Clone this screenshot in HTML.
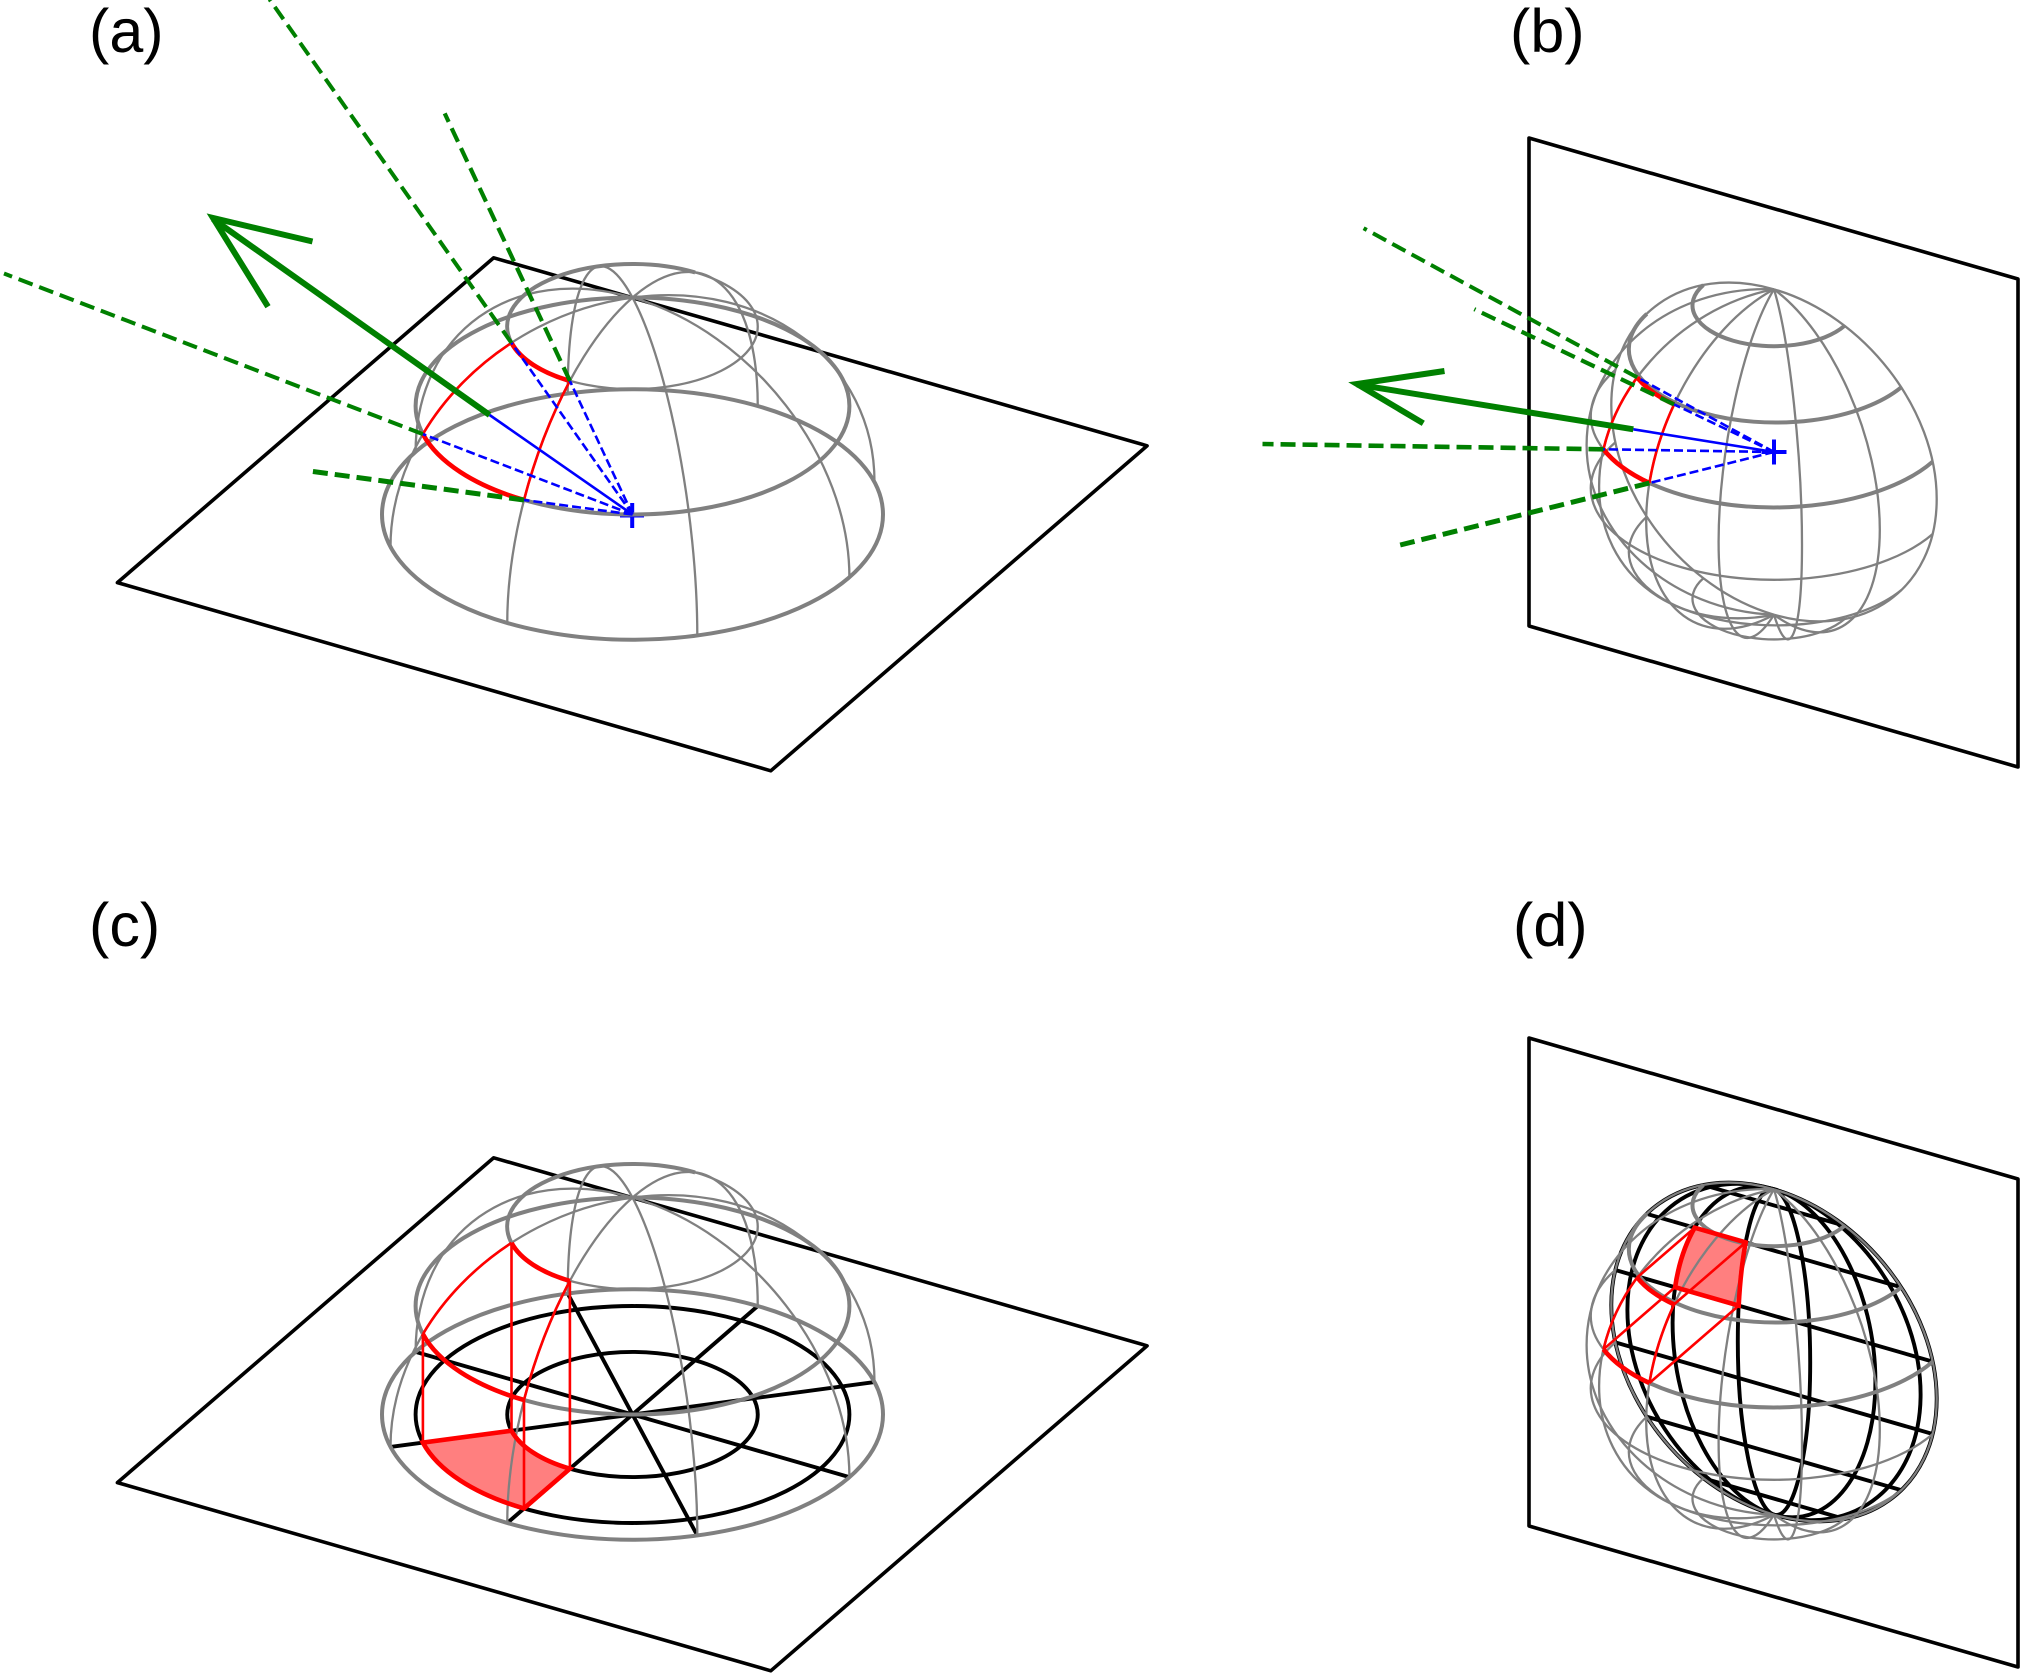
<!DOCTYPE html>
<html>
<head>
<meta charset="utf-8">
<style>
html,body{margin:0;padding:0;background:#fff;}
svg{display:block;}
text{font-family:"Liberation Sans",sans-serif;font-size:61px;fill:#000;}
.pl{fill:none;stroke:#000;stroke-width:3.6;stroke-linejoin:round;}
.gt{fill:none;stroke:#808080;stroke-width:2.3;}
.gk{fill:none;stroke:#808080;stroke-width:4;}
.rt{fill:none;stroke:#f00;stroke-width:2.6;}
.rk{fill:none;stroke:#f00;stroke-width:4.6;}
.bk{fill:none;stroke:#000;stroke-width:3.9;}
.bd{fill:none;stroke:#00f;stroke-width:2.6;stroke-dasharray:9 4;}
.bs{fill:none;stroke:#00f;stroke-width:2.6;}
.gd{fill:none;stroke:#008000;stroke-dasharray:15 7;}
.ar{fill:none;stroke:#008000;stroke-width:6;stroke-linejoin:miter;}
</style>
</head>
<body>
<svg xmlns="http://www.w3.org/2000/svg" width="2021" height="1673" viewBox="0 0 2021 1673">
<defs>
  <g id="dome">
    <ellipse class="gk" cx="632.5" cy="514.5" rx="250.5" ry="125.25"/>
    <ellipse class="gk" cx="632.5" cy="406" rx="216.9" ry="108.5"/>
    <ellipse class="gt" cx="632.5" cy="326.6" rx="125.25" ry="62.6"/>
    <path class="gk" d="M511.5,342.9 A125.25 62.6 0 0 1 695.1,272.4"/>
    <path class="gt" d="M849.4,577.1 C849.4,457.3 752.3,332.2 632.5,297.6"/>
    <path class="gt" d="M697.3,635.5 C697.3,515.7 668.3,364.4 632.5,297.6"/>
    <path class="gt" d="M507.25,623 C507.25,503.2 563.3,357.5 632.5,297.6"/>
    <path class="gt" d="M390.5,546.9 C390.5,427.1 498.8,315.5 632.5,297.6"/>
    <path class="gt" d="M415.6,451.9 C415.6,332.1 512.7,263 632.5,297.6"/>
    <path class="gt" d="M567.7,393.5 C567.7,273.7 596.7,230.8 632.5,297.6"/>
    <path class="gt" d="M757.75,406 C757.75,286.2 701.7,237.7 632.5,297.6"/>
    <path class="gt" d="M874.5,482.1 C874.5,362.3 766.2,279.7 632.5,297.6"/>
    <path class="rt" d="M524,500 C535,457.5 550.9,416.4 569.9,380.9"/>
    <path class="rt" d="M422.9,434.1 C444.1,398.3 474.7,366.9 511.5,342.9"/>
    <path class="rk" d="M569.9,380.9 A125.25 62.6 0 0 1 511.5,342.9"/>
    <path class="rk" d="M524,500 A216.9 108.5 0 0 1 422.9,434.1"/>
  </g>
  <g id="sph">
    <path class="gt" d="M1774,289.3 C1863.9,315.3 1936.7,409.1 1936.7,499 C1936.7,588.9 1863.9,640.7 1774,614.7"/>
    <path class="gt" d="M1774,289.3 C1832.4,332.2 1879.8,439.7 1879.8,529.6 C1879.8,619.5 1832.4,657.6 1774,614.7"/>
    <path class="gt" d="M1774,289.3 C1789.5,340.6 1802,455 1802,544.9 C1802,634.8 1789.5,666 1774,614.7"/>
    <path class="gt" d="M1774,289.3 C1743.4,338.9 1718.6,451.9 1718.6,541.8 C1718.6,631.7 1743.4,664.3 1774,614.7"/>
    <path class="gt" d="M1774,289.3 C1703.4,327.4 1646.2,431 1646.2,520.9 C1646.2,610.8 1703.4,652.8 1774,614.7"/>
    <path class="gt" d="M1774,289.3 C1677.4,308.2 1599.1,396.4 1599.1,486.3 C1599.1,576.2 1677.4,633.6 1774,614.7"/>
    <path class="gt" d="M1774,289.3 C1670.5,285.4 1586.6,355.1 1586.6,445 C1586.6,534.9 1670.5,610.8 1774,614.7"/>
    <path class="gt" d="M1774,289.3 C1684.1,263.3 1611.3,315.1 1611.3,405 C1611.3,494.9 1684.1,588.7 1774,614.7"/>
    <path class="gt" d="M1932.7,534 A183.2 91.6 0 0 1 1615.3,442.4"/>
    <path class="gt" d="M1901.2,590.1 A146.9 73.45 0 0 1 1646.8,516.7"/>
    <path class="gt" d="M1844.6,619 A81.5 40.8 0 0 1 1703.4,578.2"/>
    <path class="gt" d="M1603.5,449.3 A183.2 91.6 0 0 1 1615.3,370"/>
    <path class="gk" d="M1844.6,325.8 A81.5 40.8 0 0 1 1703.4,285"/>
    <path class="gk" d="M1901.2,387.3 A146.9 73.45 0 0 1 1646.8,313.9"/>
    <path class="gk" d="M1932.7,461.6 A183.2 91.6 0 0 1 1649.4,483"/>
    <path class="rt" d="M1649.4,483 C1653.7,456.9 1662.1,430.1 1674.1,404.4"/>
    <path class="rt" d="M1603.5,449.3 C1609.3,424.3 1620.8,399.7 1637.2,377.4"/>
    <path class="rk" d="M1674.1,404.4 A146.9 73.45 0 0 1 1637.2,377.4"/>
    <path class="rk" d="M1649.4,483 A183.2 91.6 0 0 1 1603.5,449.3"/>
  </g>
  <path id="pa" class="pl" d="M493.7,257.8 L1147.1,445.8 L770.8,770.8 L117.4,582.6 Z"/>
  <path id="pb" class="pl" d="M1529,138 L2018,279 L2018,767 L1529,626 Z"/>
</defs>

<!-- panel a -->
<use href="#pa"/>
<path d="M632.2,503 V528 M620,515.5 H644" fill="none" stroke="#00f" stroke-width="4"/>
<use href="#dome"/>
<path class="bd" d="M632.5,514.5 L511.5,342.9"/>
<path class="bd" d="M632.5,514.5 L569.9,380.9"/>
<path class="bd" d="M632.5,514.5 L422.9,434.1"/>
<path class="bd" d="M632.5,514.5 L524,500"/>
<path class="bs" d="M632.5,514.5 L489.6,415"/>
<path class="gd" stroke-width="4" d="M511.5,342.9 L269.5,-0.6"/>
<path class="gd" stroke-width="4.2" d="M569.9,380.9 L444.7,113.4"/>
<path class="gd" stroke-width="4" d="M422.9,434.1 L4,273.5"/>
<path class="gd" stroke-width="5" d="M524,500 L307,470.7"/>
<path class="ar" d="M489.6,415 L213,219"/>
<path class="ar" d="M312.5,241.5 L213,218 L268,306.7"/>

<!-- panel b -->
<use href="#pb"/>
<use href="#sph"/>
<path class="bd" d="M1774,452 L1637.2,377.4"/>
<path class="bd" d="M1774,452 L1674.1,404.4"/>
<path class="bd" d="M1774,452 L1603.5,449.3"/>
<path class="bd" d="M1774,452 L1649.4,483"/>
<path class="bs" d="M1774,452 L1633.3,429.3"/>
<path d="M1774,439.5 V464.5 M1761.5,452 H1786.5" fill="none" stroke="#00f" stroke-width="4"/>
<path class="gd" stroke-width="4" d="M1637.2,377.4 L1363.6,228.2"/>
<path class="gd" stroke-width="4.2" d="M1674.1,404.4 L1474.3,309.2"/>
<path class="gd" stroke-width="4.6" d="M1603.5,449.3 L1262.5,444"/>
<path class="gd" stroke-width="5" d="M1649.4,483 L1400.2,545"/>
<path class="ar" d="M1633.3,429.3 L1357,384.5"/>
<path class="ar" d="M1444.5,371 L1357,384 L1423.3,423.3"/>

<!-- panel c -->
<g transform="translate(0,900)">
  <use href="#pa"/>
  <ellipse class="bk" cx="632.5" cy="514.5" rx="216.9" ry="108.5"/>
  <ellipse class="bk" cx="632.5" cy="514.5" rx="125.25" ry="62.6"/>
  <path class="bk" d="M849.4,577.1 L415.6,451.9 M697.3,635.5 L567.7,393.5 M507.25,623 L757.75,406 M390.5,546.9 L874.5,482.1"/>
  <path d="M569.9,568.7 A125.25 62.6 0 0 1 511.5,530.7 L422.9,542.6 A216.9 108.5 0 0 0 524,608.4 Z" fill="#f00" fill-opacity="0.5" stroke="none"/>
  <use href="#dome"/>
  <path class="rk" d="M569.9,568.7 A125.25 62.6 0 0 1 511.5,530.7 L422.9,542.6 A216.9 108.5 0 0 0 524,608.4 Z"/>
  <path class="rt" d="M422.9,434.1 V542.6 M511.5,342.9 V530.7 M524,500 V608.4 M569.9,380.9 V568.7"/>
</g>

<!-- panel d -->
<g transform="translate(0,900)">
  <use href="#pb"/>
  <path class="bk" d="M1774,289.3 C1863.9,315.3 1936.7,409.1 1936.7,499 C1936.7,588.9 1863.9,640.7 1774,614.7"/>
  <path class="bk" d="M1774,289.3 C1855,312.7 1920.6,404.4 1920.6,494.3 C1920.6,584.2 1855,638.1 1774,614.7"/>
  <path class="bk" d="M1774,289.3 C1830,305.5 1875.4,391.4 1875.4,481.3 C1875.4,571.2 1830,630.9 1774,614.7"/>
  <path class="bk" d="M1774,289.3 C1794,295.1 1810.2,372.6 1810.2,462.5 C1810.2,552.4 1794,620.5 1774,614.7"/>
  <path class="bk" d="M1774,289.3 C1754,283.5 1737.8,351.6 1737.8,441.5 C1737.8,531.4 1754,608.9 1774,614.7"/>
  <path class="bk" d="M1774,289.3 C1718,273.1 1672.6,332.8 1672.6,422.7 C1672.6,512.6 1718,598.5 1774,614.7"/>
  <path class="bk" d="M1774,289.3 C1693,265.9 1627.4,319.8 1627.4,409.7 C1627.4,499.6 1693,591.3 1774,614.7"/>
  <path class="bk" d="M1774,289.3 C1684.1,263.3 1611.3,315.1 1611.3,405 C1611.3,494.9 1684.1,588.7 1774,614.7"/>
  <path class="bk" d="M1844.6,325.8 L1703.4,285 M1901.2,387.3 L1646.8,313.9 M1932.7,461.6 L1615.3,370 M1932.7,534 L1615.3,442.4 M1901.2,590.1 L1646.8,516.7 M1844.6,619 L1703.4,578.2"/>
  <path d="M1694.7,327.7 L1745.7,342.4 C1742.3,360.5 1739.9,382.1 1738.7,405.6 L1675.1,387.2 C1678.5,364.3 1685.2,344.1 1694.7,327.7 Z" fill="#f00" fill-opacity="0.5" stroke="none"/>
  <use href="#sph"/>
  <path class="rk" d="M1694.7,327.7 L1745.7,342.4 C1742.3,360.5 1739.9,382.1 1738.7,405.6 L1675.1,387.2 C1678.5,364.3 1685.2,344.1 1694.7,327.7 Z"/>
  <path class="rt" d="M1674.1,404.4 L1745.7,342.4 M1637.2,377.4 L1694.7,327.7 M1649.4,483 L1738.7,405.6 M1603.5,449.3 L1675.1,387.2"/>
</g>

<text x="89" y="52">(a)</text>
<text x="1510" y="52">(b)</text>
<text x="89" y="946">(c)</text>
<text x="1513" y="946">(d)</text>
</svg>
</body>
</html>
